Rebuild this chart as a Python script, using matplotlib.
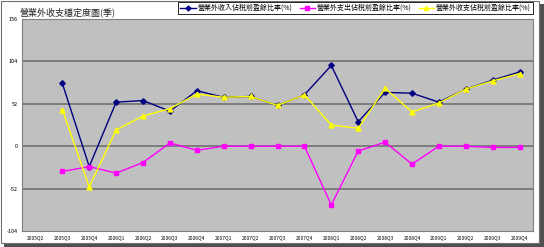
import numpy as np
import matplotlib.pyplot as plt
from matplotlib.patches import Rectangle
from matplotlib.lines import Line2D

plt.rcParams['font.family'] = ['Noto Sans CJK TC', 'DejaVu Sans']

# quarters on the category axis
quarters = ['2005Q2', '2005Q3', '2005Q4',
            '2006Q1', '2006Q2', '2006Q3', '2006Q4',
            '2007Q1', '2007Q2', '2007Q3', '2007Q4',
            '2008Q1', '2008Q2', '2008Q3', '2008Q4',
            '2009Q1', '2009Q2', '2009Q3', '2009Q4']

# values (no value for 2005Q2)
income_ratio = [np.nan, 77, -25, 54, 56, 43, 68, 60, 61, 50, 63,
                99, 30, 66, 65, 54, 70, 81, 91]
expense_ratio = [np.nan, -31, -25, -33, -20, 4, -5, 0, 0, 0, 0,
                 -72, -6, 5, -22, 0, 0, -1.5, -1.5]
net_ratio = [np.nan, 45, -50, 20, 37, 46, 64, 60, 61, 50, 63,
             26, 22, 71, 42, 53, 70, 80, 89]

series_names = ['營業外收入佔稅前盈餘比率(%)',
                '營業外支出佔稅前盈餘比率(%)',
                '營業外收支佔稅前盈餘比率(%)']
y_ticks = [-104, -52, 0, 52, 104, 156]

fig = plt.figure(figsize=(5.44, 2.47), dpi=100)
W, H = 544, 247

# chart frame with shadow
fig.patches.append(Rectangle((4 / W, 0), 540 / W, 243 / H, transform=fig.transFigure,
                             facecolor='#505050', edgecolor='none', zorder=-2))
fig.patches.append(Rectangle((1 / W, 4 / H), 538 / W, 242 / H, transform=fig.transFigure,
                             facecolor='white', edgecolor='#707070', lw=0.8, zorder=-1))

ax = fig.add_axes([22 / W, 1 - 231 / H, 511 / W, 212 / H])
ax.set_zorder(1)
ax.set_facecolor('#C0C0C0')
for s in ax.spines.values():
    s.set_color('#808080')
    s.set_linewidth(0.8)

x = np.arange(len(quarters))
ax.plot(x, income_ratio, color='#000080', marker='D', markersize=2.8, lw=1.0, zorder=3)
ax.plot(x, expense_ratio, color='#FF00FF', marker='s', markersize=3.3, lw=1.0, zorder=3)
ax.plot(x, net_ratio, color='#FFFF00', marker='^', markersize=3.5, lw=1.0, zorder=3)

ax.set_xlim(-0.5, len(quarters) - 0.5)
ax.set_ylim(-104, 156)
ax.set_yticks(y_ticks)
ax.set_yticklabels([str(v) for v in y_ticks], fontsize=4)
ax.set_xticks(x)
ax.set_xticklabels(quarters, fontsize=3.5)
ax.tick_params(axis='both', length=0, pad=3)
for v in y_ticks[1:-1]:
    ax.axhline(v, color='#6a6a6a', lw=1.1, zorder=1)

fig.text(20 / W, 1 - 12 / H, '營業外收支穩定度圖(季)', fontsize=6.5, color='#222222',
         ha='left', va='center')

handles = [Line2D([], [], color='#000080', marker='D', markersize=2.5, lw=1.0),
           Line2D([], [], color='#FF00FF', marker='s', markersize=3, lw=1.0),
           Line2D([], [], color='#FFFF00', marker='^', markersize=3, lw=1.0)]
leg = fig.legend(handles, series_names, ncol=3, fontsize=5.0, numpoints=1,
                 loc='upper right', bbox_to_anchor=(533 / W, 1 - 2 / H),
                 frameon=True, fancybox=False, edgecolor='black', framealpha=1,
                 handlelength=2.2, columnspacing=1.0, handletextpad=0.3,
                 borderpad=0.3, borderaxespad=0)
leg.get_frame().set_linewidth(0.6)

fig.savefig('out.png', dpi=100)
